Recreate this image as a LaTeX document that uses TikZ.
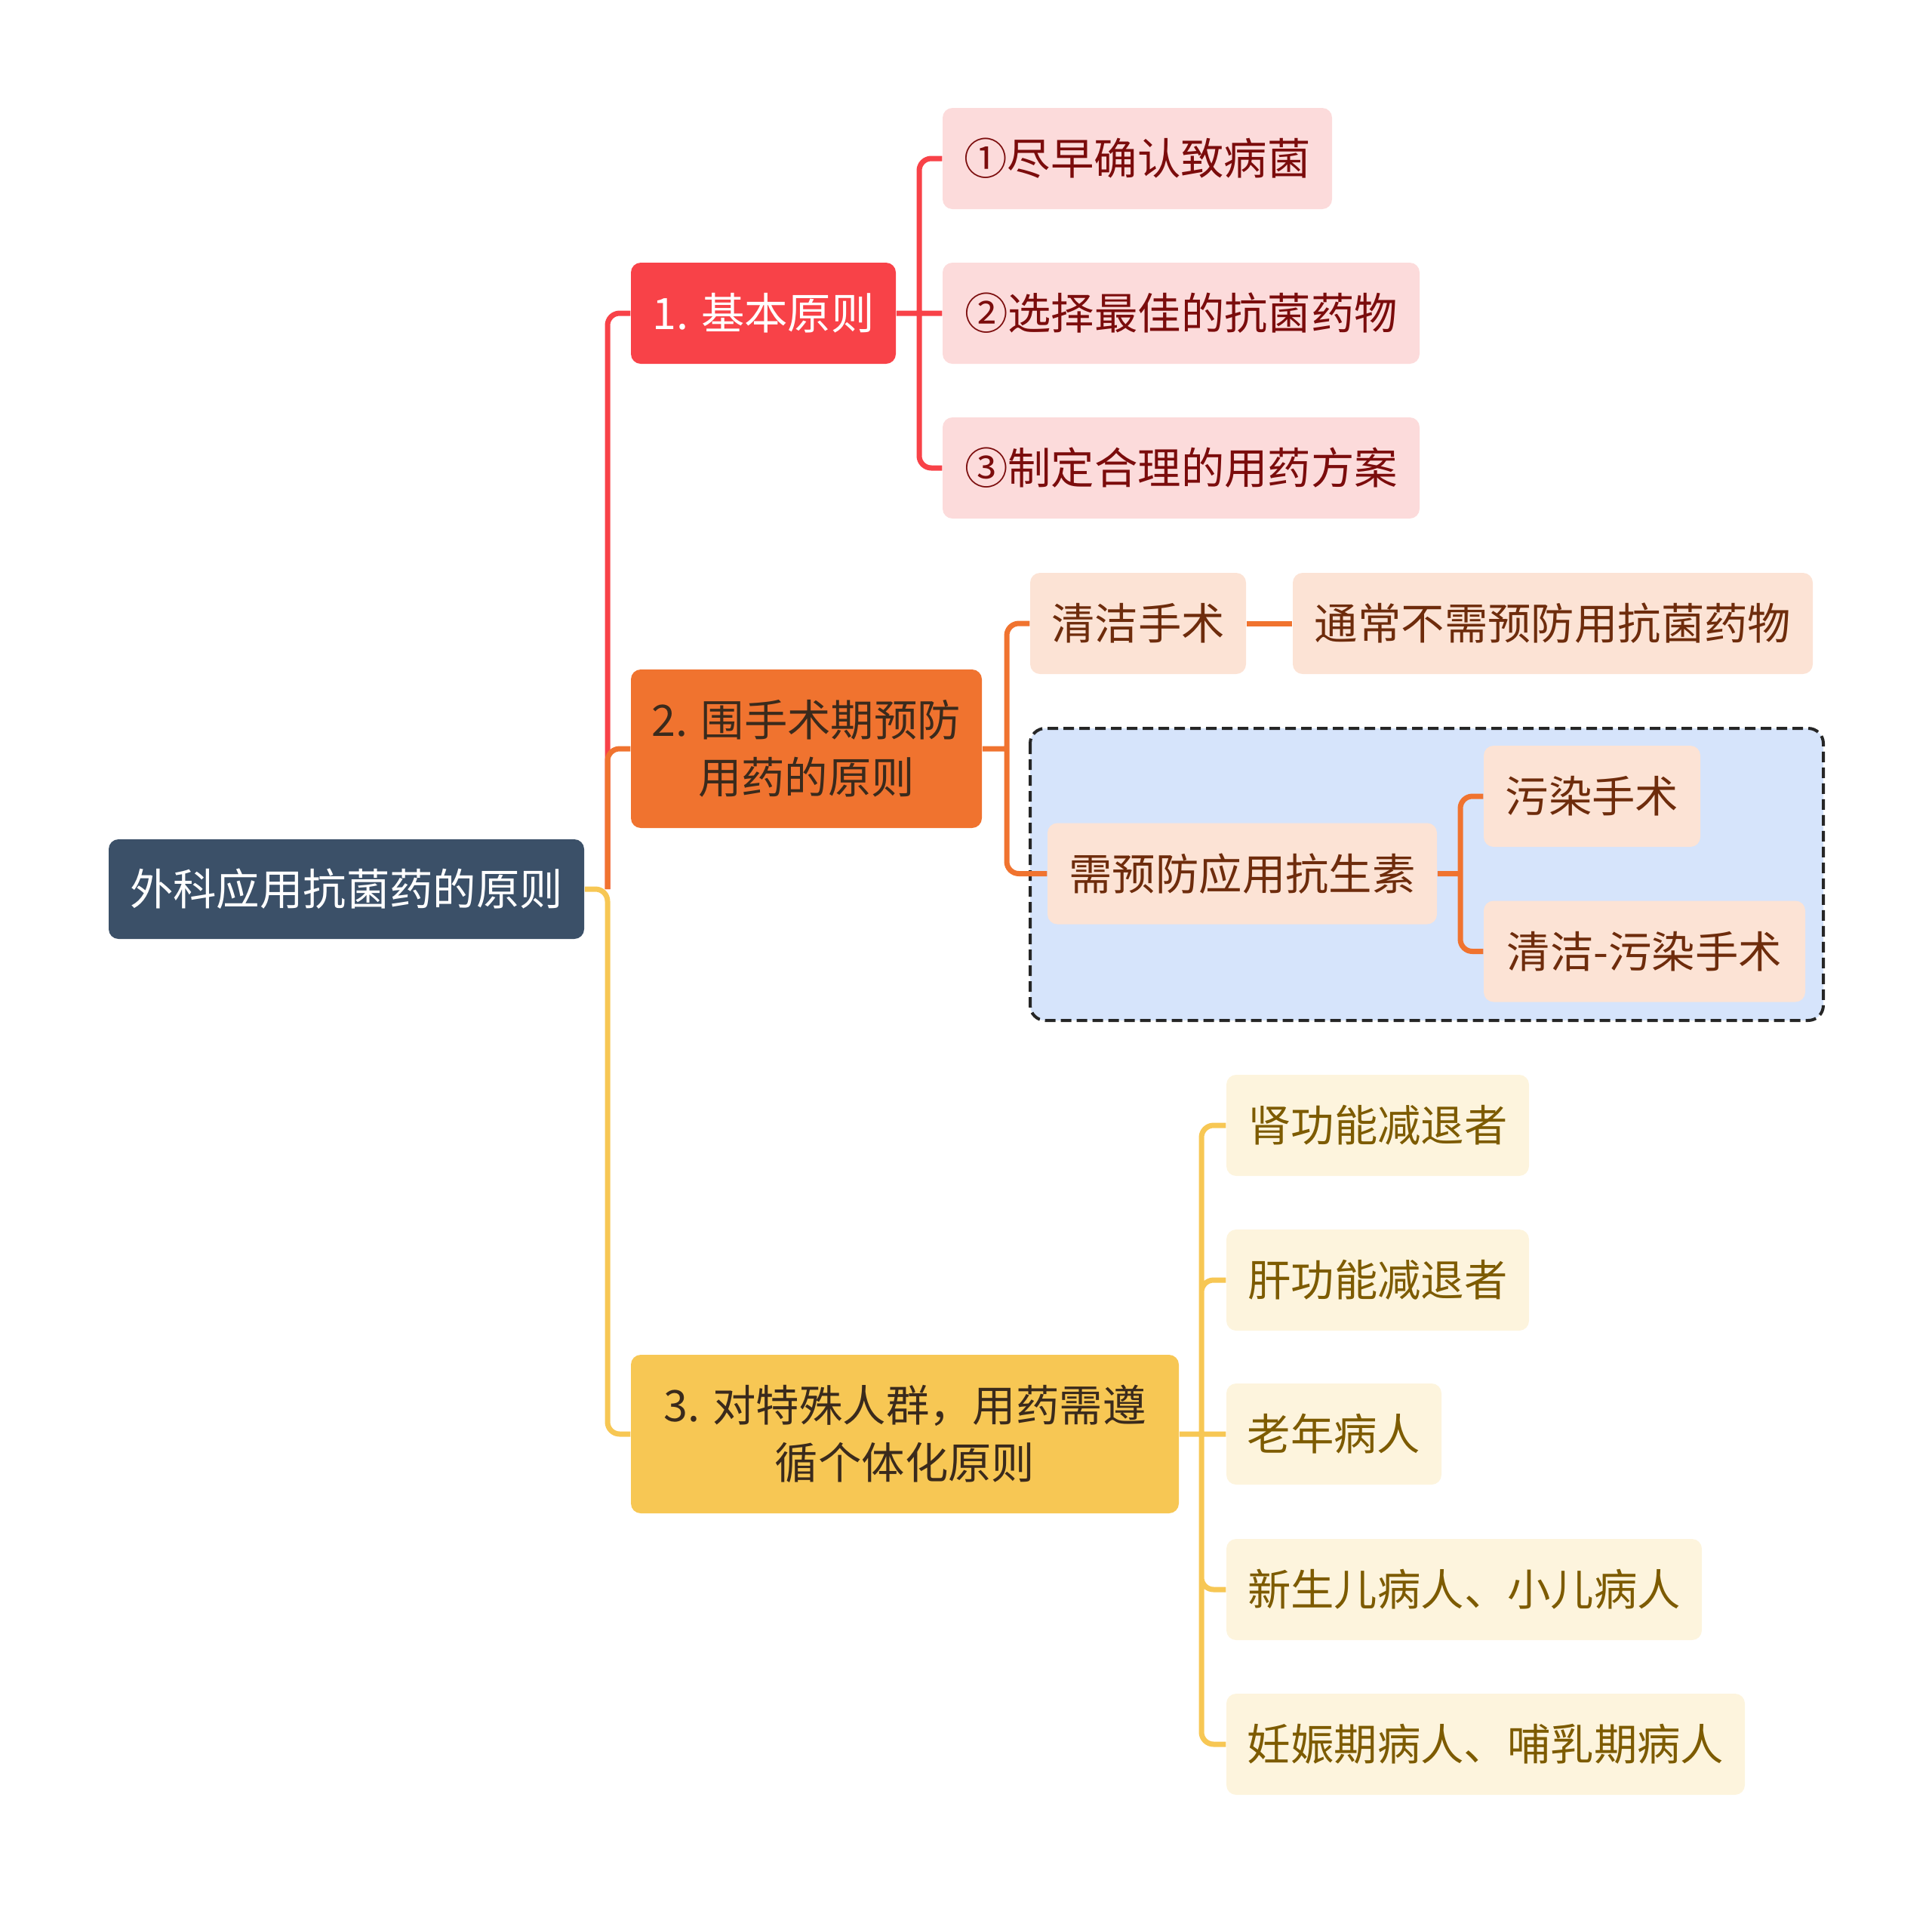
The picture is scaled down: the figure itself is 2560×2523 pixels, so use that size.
\documentclass[tikz,border=0pt]{standalone}
\usepackage{fontspec}
\setmainfont{Noto Sans CJK SC}

\definecolor{rootblue}{HTML}{3B5068}
\definecolor{redmain}{HTML}{F84248}
\definecolor{orangemain}{HTML}{F0732F}
\definecolor{yellowmain}{HTML}{F7C754}
\definecolor{redleaf}{HTML}{FCDBDB}
\definecolor{orangeleaf}{HTML}{FCE3D5}
\definecolor{yellowleaf}{HTML}{FDF4DD}
\definecolor{redtext}{HTML}{7B0C0C}
\definecolor{orangetext}{HTML}{6E2C0C}
\definecolor{yellowtext}{HTML}{7D5B00}
\definecolor{darktext}{HTML}{3A2A1C}
\definecolor{groupblue}{HTML}{D6E4FB}

\tikzset{every picture/.style={line width=0.75pt}}
\tikzset{
  box/.style={rounded corners=6.5pt, inner sep=0pt, align=center,
    font=\fontsize{28.7}{38}\selectfont},
  rootbox/.style={box, fill=rootblue, text=white},
  redbox/.style={box, fill=redmain, text=white},
  orangebox/.style={box, fill=orangemain, text=darktext},
  yellowbox/.style={box, fill=yellowmain, text=darktext},
  redsub/.style={box, fill=redleaf, text=redtext, minimum height=67pt},
  orangesub/.style={box, fill=orangeleaf, text=orangetext, minimum height=67pt},
  yellowsub/.style={box, fill=yellowleaf, text=yellowtext, minimum height=67pt},
  link/.style={line width=3.5pt, rounded corners=8pt},
  redline/.style={link, draw=redmain},
  orangeline/.style={link, draw=orangemain},
  yellowline/.style={link, draw=yellowmain},
  groupbox/.style={draw=black!85, fill=groupblue, line width=2pt,
    dash pattern=on 7pt off 3.5pt, rounded corners=10pt}
}

\begin{document}
\begin{tikzpicture}[x=0.5pt,y=0.5pt,yscale=-1,xscale=1]
\useasboundingbox (0,0) rectangle (2560,2523);

%Shape: Rectangle [group of surgery types]
\draw[groupbox] (1365,965) rectangle (2416,1352);

% Text Node
\node[rootbox, minimum width=315pt, minimum height=66pt] (root) at (459,1178) {外科应用抗菌药的原则};
% Text Node
\node[redbox, minimum width=175.5pt, minimum height=67pt] (basic) at (1011.5,415) {1. 基本原则};
% Text Node
\node[orangebox, minimum width=232.5pt, minimum height=105pt] (periop) at (1068.5,992) {2. 围手术期预防\\用药的原则};
% Text Node
\node[yellowbox, minimum width=363pt, minimum height=105pt] (special) at (1199,1900) {3. 对特殊人群，用药需遵\\循个体化原则};

% Text Node
\node[redsub, minimum width=258pt] (early) at (1507,210) {①尽早确认致病菌};
% Text Node
\node[redsub, minimum width=316pt] (best) at (1565,415) {②选择最佳的抗菌药物};
% Text Node
\node[redsub, minimum width=316pt] (plan) at (1565,620) {③制定合理的用药方案};

% Text Node
\node[orangesub, minimum width=143pt] (clean) at (1508,826) {清洁手术};
% Text Node
\node[orangesub, minimum width=344.5pt] (noneed) at (2057.5,826) {通常不需预防用抗菌药物};
% Text Node
\node[orangesub, minimum width=258pt] (need) at (1646,1157.5) {需预防应用抗生素};
% Text Node
\node[orangesub, minimum width=143.5pt] (dirty) at (2109.5,1055) {污染手术};
% Text Node
\node[orangesub, minimum width=213pt] (cleandirty) at (2179,1260.5) {清洁-污染手术};

% Text Node
\node[yellowsub, minimum width=200.5pt] (kidney) at (1825.5,1491) {肾功能减退者};
% Text Node
\node[yellowsub, minimum width=200.5pt] (liver) at (1825.5,1696) {肝功能减退者};
% Text Node
\node[yellowsub, minimum width=142.5pt] (elderly) at (1767.5,1900) {老年病人};
% Text Node
\node[yellowsub, minimum width=315pt] (child) at (1940,2106) {新生儿病人、小儿病人};
% Text Node
\node[yellowsub, minimum width=343.5pt] (pregnant) at (1968.5,2311) {妊娠期病人、哺乳期病人};

% Connection points
\coordinate (trunk) at (805,1178);
\coordinate (fork1) at (1218,415);
\coordinate (fork2) at (1334,992);
\coordinate (fork3) at (1935,1157.5);
\coordinate (fork4) at (1592,1900);

% Connection
\draw[redline] (trunk) |- (basic.west);
\draw[orangeline] (trunk) |- (periop.west);
\draw[yellowline] (root.east) -- (trunk) |- (special.west);
% Connection
\draw[redline] (basic.east) -- (best.west) (fork1) |- (early.west) (fork1) |- (plan.west);
% Connection
\draw[orangeline] (periop.east) -- (fork2) (fork2) |- (clean.west) (fork2) |- (need.west);
\draw[orangeline] (clean.east) -- (noneed.west);
\draw[orangeline] (need.east) -- (fork3) (fork3) |- (dirty.west) (fork3) |- (cleandirty.west);
% Connection
\draw[yellowline] (special.east) -- (elderly.west) (fork4) |- (kidney.west) (fork4) |- (liver.west)
  (fork4) |- (child.west) (fork4) |- (pregnant.west);

\end{tikzpicture}
\end{document}
